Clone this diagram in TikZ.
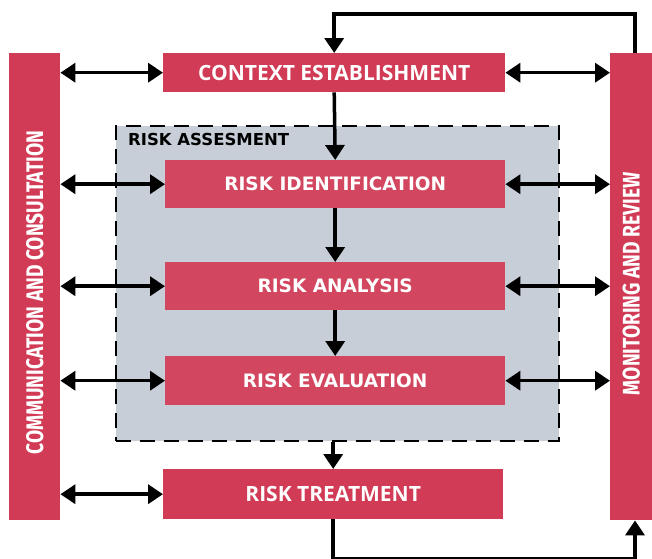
\documentclass[tikz,border=0pt]{standalone}
\usepackage{fontspec}
\setmainfont{Fira Sans}
\newfontfamily\outerfont{Open Sans}
\newfontfamily\innerfont{DejaVu Sans}
\usetikzlibrary{arrows.meta}
\definecolor{rred}{HTML}{D13B55}
\definecolor{rinner}{HTML}{D2465F}
\definecolor{rgray}{HTML}{C7CED8}
\tikzset{
  outerbox/.style={fill=rred, text=white, inner sep=0pt, font=\outerfont\fontsize{21}{23}\selectfont\bfseries},
  innerbox/.style={fill=rinner, text=white, inner sep=0pt, font=\innerfont\fontsize{18.5}{20}\selectfont\bfseries},
  sidebar/.style={fill=rred, inner sep=0pt},
  sidetext/.style={text=white, rotate=90, inner sep=0pt, font=\fontsize{24}{26}\selectfont\bfseries},
  conn/.style={line width=3.5pt, -{Triangle[length=15pt,width=19pt]}},
  dconn/.style={line width=3.5pt, {Triangle[length=15pt,width=19pt]}-{Triangle[length=15pt,width=19pt]}},
}
\begin{document}
\begin{tikzpicture}[x=1pt,y=-1pt]
\useasboundingbox (0,0) rectangle (652,558);
% assessment box
\node[draw=black, fill=rgray, line width=2.2pt, dash pattern=on 15pt off 9pt, minimum width=443pt, minimum height=315pt, inner sep=0pt, anchor=north west] (assess) at (115,125) {};
\node[anchor=north west, inner sep=0pt, font=\innerfont\fontsize{16.5}{18}\selectfont\bfseries] (alabel) at (128,133) {RISK ASSESMENT};
% side bars
\node[sidebar, minimum width=51pt, minimum height=467pt, anchor=north west] (comm) at (9,53) {};
\node[sidetext] (commtxt) at ([yshift=-6pt]comm.center) {\scalebox{0.8}[1]{COMMUNICATION AND CONSULTATION}};
\node[sidebar, minimum width=42pt, minimum height=467pt, anchor=north west] (mon) at (610,53) {};
\node[sidetext] (montxt) at ([yshift=3pt]mon.center) {\scalebox{0.8}[1]{MONITORING AND REVIEW}};
% process boxes
\node[outerbox, minimum width=342pt, minimum height=39pt, anchor=north west] (ctx) at (163,53) {CONTEXT ESTABLISHMENT};
\node[innerbox, minimum width=340pt, minimum height=48pt, anchor=north west] (ident) at (165,160) {RISK IDENTIFICATION};
\node[innerbox, minimum width=340pt, minimum height=48pt, anchor=north west] (anal) at (165,262) {RISK ANALYSIS};
\node[innerbox, minimum width=340pt, minimum height=49pt, anchor=north west] (eval) at (165,356) {RISK EVALUATION};
\node[outerbox, minimum width=340pt, minimum height=50pt, anchor=north west] (treat) at (163,469) {RISK TREATMENT};
% vertical flow
\draw[conn] (ctx.south) -- (ident.north);
\draw[conn] (ident.south) -- (anal.north);
\draw[conn] (anal.south) -- (eval.north);
\draw[conn] (assess.south -| treat.north) -- (treat.north);
% left double arrows
\draw[dconn] (ctx.west -| comm.east) -- (ctx.west);
\draw[dconn] (ident.west -| comm.east) -- (ident.west);
\draw[dconn] (anal.west -| comm.east) -- (anal.west);
\draw[dconn] (eval.west -| comm.east) -- (eval.west);
\draw[dconn] (treat.west -| comm.east) -- (treat.west);
% right double arrows
\draw[dconn] (ctx.east) -- (ctx.east -| mon.west);
\draw[dconn] (ident.east) -- (ident.east -| mon.west);
\draw[dconn] (anal.east) -- (anal.east -| mon.west);
\draw[dconn] (eval.east) -- (eval.east -| mon.west);
% loops
\coordinate (topR) at (635,14);
\coordinate (botR) at (635,559);
\draw[conn] (mon.north -| topR) -- (topR) -| (ctx.north);
\draw[conn] (treat.south) |- (botR) -- (mon.south -| botR);
\end{tikzpicture}
\end{document}
